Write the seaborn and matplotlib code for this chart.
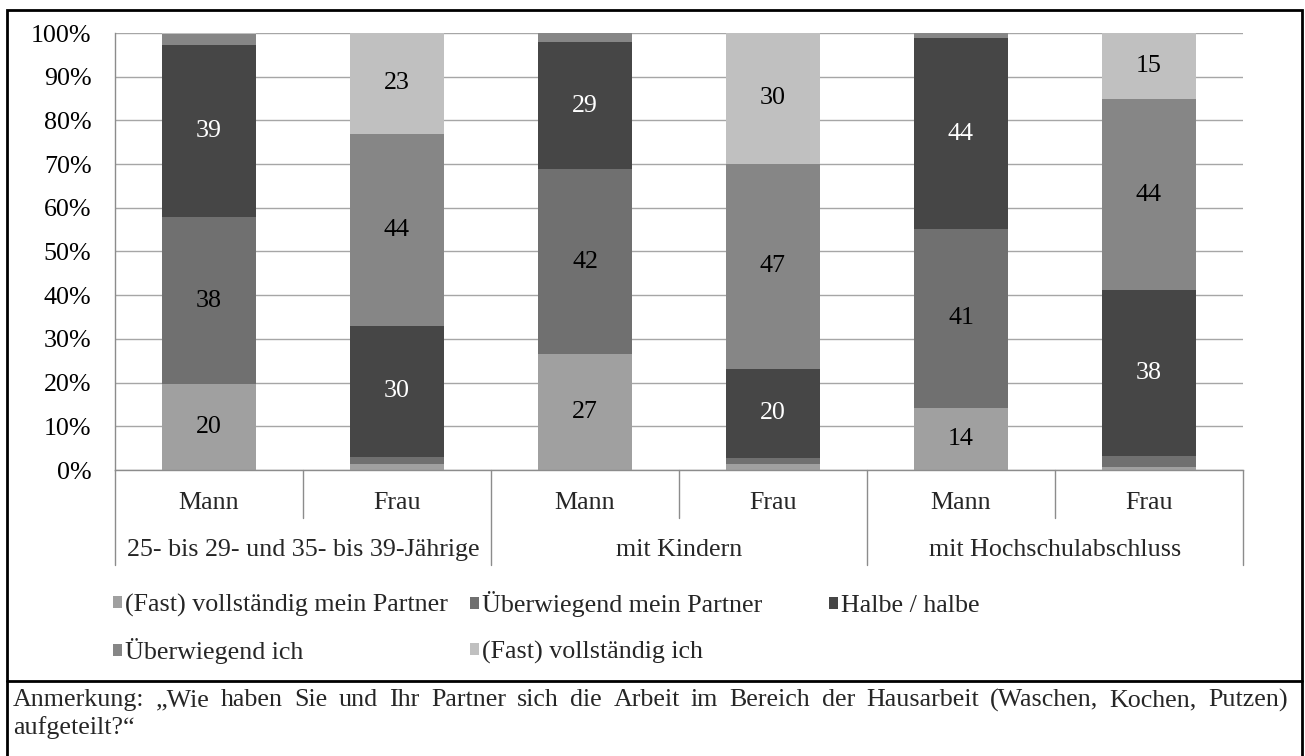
import numpy as np
import pandas as pd
import seaborn as sns
import matplotlib.pyplot as plt
from matplotlib.patches import Patch, Rectangle
from matplotlib.lines import Line2D
from matplotlib.ticker import MultipleLocator, PercentFormatter

groups = ['25- bis 29- und 35- bis 39-Jährige', 'mit Kindern', 'mit Hochschulabschluss']
sexes = ['Mann', 'Frau']
series = ['(Fast) vollständig mein Partner', 'Überwiegend mein Partner', 'Halbe / halbe',
          'Überwiegend ich', '(Fast) vollständig ich']

# shares in %, bars: Mann/Frau per group
full_partner = [19.7, 1.4, 26.6, 1.3, 14.2, 0.8]
mostly_partner = [38.1, 1.6, 42.2, 1.5, 41.0, 2.5]
half = [39.4, 30.0, 29.2, 20.3, 43.6, 37.8]
mostly_me = [2.6, 44.0, 2.0, 47.0, 1.2, 43.8]
full_me = [0.2, 23.0, 0.0, 29.9, 0.0, 15.1]

colors = ['#a0a0a0', '#707070', '#464646', '#868686', '#c0c0c0']
label_colors = ['black', 'black', 'white', 'black', 'black']
note = ['Anmerkung: „Wie haben Sie und Ihr Partner sich die Arbeit im Bereich der Hausarbeit (Waschen, Kochen, Putzen)',
        'aufgeteilt?“']

keys = [g + '|' + s for g in groups for s in sexes]
vals = np.array([full_partner, mostly_partner, half, mostly_me, full_me]) / 100
cum = vals.cumsum(axis=0)
df = pd.DataFrame({'bar': keys * 5,
                   'series': np.repeat(series, len(keys)),
                   'value': vals.ravel(),
                   'top': cum.ravel()})

sns.set_style('white')
plt.rcParams['font.family'] = ['Liberation Serif', 'DejaVu Serif']
fs = 18.7
grey = '#8c8c8c'

W, H = 1305, 756
fig = plt.figure(figsize=(W / 100, H / 100), dpi=100)
ax = fig.add_axes([115 / W, 1 - 470 / H, 1128 / W, 437 / H])

# stacked bars: draw cumulative tops, uppermost layer first
for i in reversed(range(len(series))):
    sub = df[df['series'] == series[i]]
    sns.barplot(data=sub, x='bar', y='top', order=keys, color=colors[i], saturation=1,
                width=0.5, errorbar=None, linewidth=0, edgecolor='none', ax=ax)

for _, r in df.iterrows():
    if r['value'] >= 0.05:
        i = series.index(r['series'])
        ax.text(keys.index(r['bar']), r['top'] - r['value'] / 2, f"{r['value'] * 100:.0f}",
                ha='center', va='center', fontsize=fs, color=label_colors[i])

ax.set_xlim(-0.5, len(keys) - 0.5)
ax.set_ylim(0, 1)
ax.yaxis.set_major_locator(MultipleLocator(0.1))
ax.yaxis.set_major_formatter(PercentFormatter(1, decimals=0))
ax.set_xlabel('')
ax.set_ylabel('')
ax.yaxis.grid(True, color='#a6a6a6', lw=1)
ax.set_axisbelow(True)
ax.tick_params(axis='y', length=8, width=1, color=grey, pad=9, labelsize=fs, labelcolor='black')
ax.tick_params(axis='x', length=0, labelbottom=False)
for s in ['top', 'right']:
    ax.spines[s].set_visible(False)
for s in ['left', 'bottom']:
    ax.spines[s].set_color(grey)
    ax.spines[s].set_linewidth(1)

# two-level category axis
tr = ax.get_xaxis_transform()
ah = 437
for b in [-0.5, 1.5, 3.5, 5.5]:
    ax.plot([b, b], [0, -95 / ah], transform=tr, clip_on=False, color=grey, lw=1)
for b in [0.5, 2.5, 4.5]:
    ax.plot([b, b], [0, -48 / ah], transform=tr, clip_on=False, color=grey, lw=1)
for k in range(len(keys)):
    ax.text(k, -33 / ah, sexes[k % 2], transform=tr, ha='center', va='center', fontsize=fs)
for g, name in enumerate(groups):
    ax.text(2 * g + 0.5, -80 / ah, name, transform=tr, ha='center', va='center', fontsize=fs)

# legend: one entry each, laid out in rows of three equally wide columns
handles = [Patch(facecolor=c, edgecolor='none') for c in colors]
col_x = [113, 470, 829]
row_y = [617, 664]
for i, lab in enumerate(series):
    fig.legend([handles[i]], [lab], loc='lower left',
               bbox_to_anchor=(col_x[i % 3] / W, 1 - row_y[i // 3] / H), frameon=False, fontsize=fs,
               handlelength=0.33, handleheight=0.33, handletextpad=0.12,
               borderpad=0, borderaxespad=0)

# frame and note
fig.add_artist(Rectangle((7 / W, -0.02), (1302 - 7) / W, 1.02 - 10 / H, transform=fig.transFigure,
                         fill=False, lw=2, edgecolor='black'))
fig.add_artist(Line2D([7 / W, 1302 / W], [1 - 681 / H] * 2, transform=fig.transFigure,
                      color='black', lw=2))

# first note line justified between the frame margins
fig.canvas.draw()
rend = fig.canvas.get_renderer()
words = note[0].split(' ')
wtexts = [fig.text(0, 1 - 700 / H, w, va='center', fontsize=fs) for w in words]
widths = [t.get_window_extent(rend).width for t in wtexts]
gap = (1288 - 13 - sum(widths)) / (len(words) - 1)
x = 13
for t, w in zip(wtexts, widths):
    t.set_x(x / W)
    x += w + gap
fig.text(13 / W, 1 - 728 / H, note[1], va='center', fontsize=fs)

fig.savefig('out.png', dpi=100)
